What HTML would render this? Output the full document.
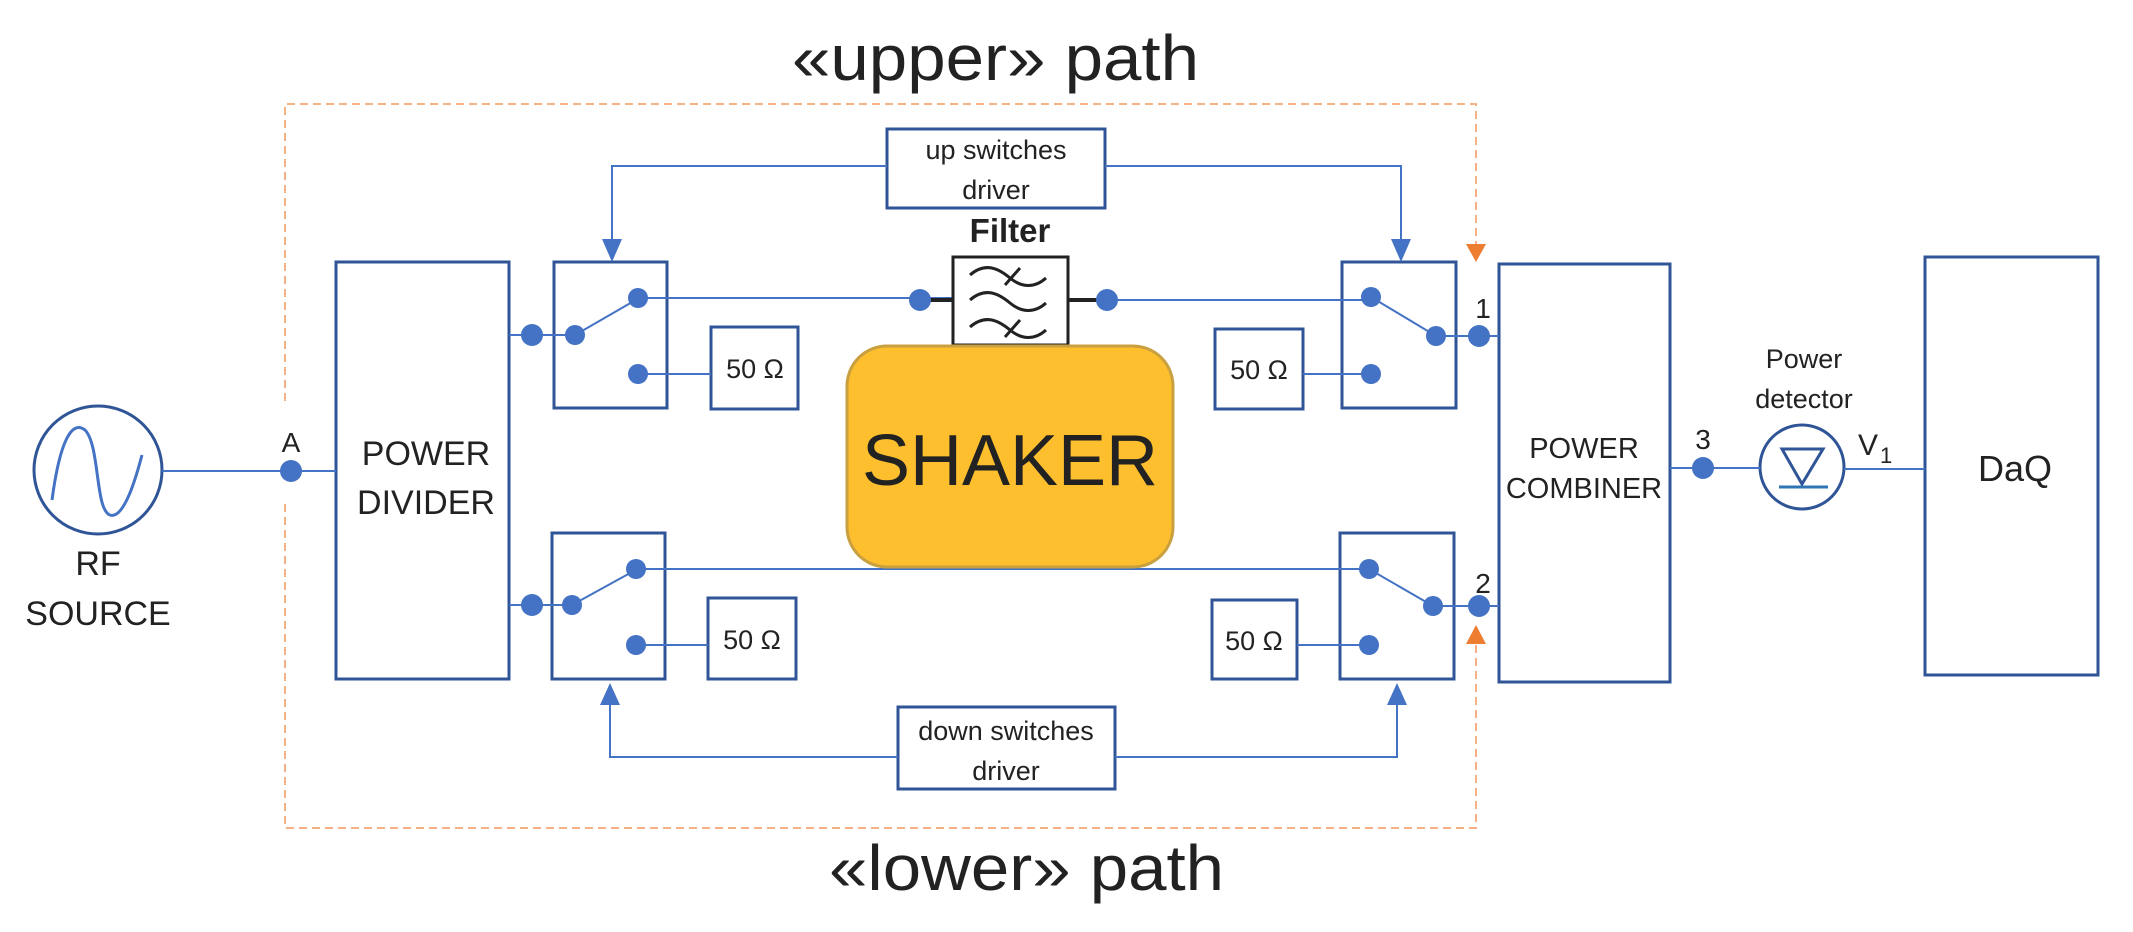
<!DOCTYPE html>
<html><head><meta charset="utf-8"><style>html,body{margin:0;padding:0;background:#fff}svg{display:block}text{font-family:"Liberation Sans",sans-serif;fill:#222}</style></head><body>
<svg width="2133" height="932" viewBox="0 0 2133 932" xmlns="http://www.w3.org/2000/svg">
<g fill="none" stroke="#F4B183" stroke-width="2" stroke-dasharray="8,5">
<path d="M285 401 V104 H1476 V245"/>
<path d="M285 504 V828 H1476 V643"/>
</g>
<polygon points="1466,244 1486,244 1476,262" fill="#ED7D31"/>
<polygon points="1466,644 1486,644 1476,625" fill="#ED7D31"/>
<text x="792" y="80" font-size="64" textLength="407" lengthAdjust="spacingAndGlyphs">«upper» path</text>
<text x="829" y="890" font-size="64" textLength="395" lengthAdjust="spacingAndGlyphs">«lower» path</text>
<g fill="#fff" stroke="#2F5597" stroke-width="3">
<rect x="336" y="262" width="173" height="417"/>
<rect x="554" y="262" width="113" height="146"/>
<rect x="552" y="533" width="113" height="146"/>
<rect x="711" y="327" width="87" height="82"/>
<rect x="708" y="598" width="88" height="81"/>
<rect x="887" y="129" width="218" height="79"/>
<rect x="898" y="707" width="217" height="82"/>
<rect x="1342" y="262" width="114" height="146"/>
<rect x="1340" y="533" width="114" height="146"/>
<rect x="1215" y="329" width="88" height="80"/>
<rect x="1212" y="600" width="85" height="79"/>
<rect x="1499" y="264" width="171" height="418"/>
<rect x="1925" y="257" width="173" height="418"/>
<circle cx="98" cy="470" r="64"/>
<circle cx="1802" cy="467" r="42"/>
</g>
<g stroke="#4472C4" stroke-width="2" fill="none">
<path d="M162 471 H336"/>
<path d="M509 335 H575 M509 605 H572"/>
<path d="M575 335 L634 301 M572 605 L632 572"/>
<path d="M638 298 H953 M1068 300 H1371"/>
<path d="M638 374 H711 M636 645 H708"/>
<path d="M636 569 H1369"/>
<path d="M1371 297 L1436 336 M1369 569 L1433 606"/>
<path d="M1436 336 H1499 M1433 606 H1499"/>
<path d="M1303 374 H1371 M1297 645 H1369"/>
<path d="M887 166 H612 V240 M1105 166 H1401 V240"/>
<path d="M898 757 H610 V704 M1115 757 H1397 V704"/>
<path d="M1670 468 H1760 M1844 469 H1925"/>
</g>
<g stroke="#222" stroke-width="4"><path d="M920 300 H953 M1068 300 H1107"/></g>
<g fill="#4472C4">
<polygon points="602,239 622,239 612,262"/><polygon points="1391,239 1411,239 1401,262"/>
<polygon points="600,705 620,705 610,683"/><polygon points="1387,705 1407,705 1397,683"/>
</g>
<path d="M52 500 C60 440,72 420,85 430 C100 445,95 510,110 515 C125 520,138 470,142 455" fill="none" stroke="#4472C4" stroke-width="3"/>
<polygon points="1782,449 1823,449 1802,484" fill="none" stroke="#2F5597" stroke-width="3"/>
<path d="M1779 487 H1828" stroke="#2E75B6" stroke-width="3"/>
<rect x="953" y="257" width="115" height="88" fill="#fff" stroke="#222" stroke-width="3"/>
<g fill="none" stroke="#222" stroke-width="3">
<path d="M970 275 C985 262,998 268,1010 278 C1022 288,1035 288,1046 278 M1005 285 L1020 268"/>
<path d="M970 300 C985 287,998 293,1010 303 C1022 313,1035 313,1046 303"/>
<path d="M970 327 C985 314,998 320,1010 330 C1022 340,1035 340,1046 330 M1005 337 L1020 320"/>
</g>
<rect x="847" y="346" width="326" height="221" rx="40" fill="#FDBF2D" stroke="#C9A040" stroke-width="3"/>
<g fill="#4472C4">
<circle cx="291" cy="471" r="11"/>
<circle cx="532" cy="335" r="11"/><circle cx="575" cy="335" r="10"/><circle cx="638" cy="298" r="10"/><circle cx="638" cy="374" r="10"/>
<circle cx="532" cy="605" r="11"/><circle cx="572" cy="605" r="10"/><circle cx="636" cy="569" r="10"/><circle cx="636" cy="645" r="10"/>
<circle cx="920" cy="300" r="11"/><circle cx="1107" cy="300" r="11"/>
<circle cx="1371" cy="297" r="10"/><circle cx="1371" cy="374" r="10"/><circle cx="1436" cy="336" r="10"/><circle cx="1479" cy="336" r="11"/>
<circle cx="1369" cy="569" r="10"/><circle cx="1369" cy="645" r="10"/><circle cx="1433" cy="606" r="10"/><circle cx="1479" cy="606" r="11"/>
<circle cx="1703" cy="468" r="11"/>
</g>
<g text-anchor="middle">
<text x="98" y="575" font-size="34">RF</text>
<text x="98" y="625" font-size="34">SOURCE</text>
<text x="291" y="452" font-size="28">A</text>
<text x="426" y="465" font-size="34">POWER</text>
<text x="426" y="514" font-size="34">DIVIDER</text>
<text x="755" y="378" font-size="27">50 Ω</text>
<text x="752" y="649" font-size="27">50 Ω</text>
<text x="1259" y="379" font-size="27">50 Ω</text>
<text x="1254" y="650" font-size="27">50 Ω</text>
<text x="996" y="159" font-size="27">up switches</text>
<text x="996" y="199" font-size="27">driver</text>
<text x="1006" y="740" font-size="27">down switches</text>
<text x="1006" y="780" font-size="27">driver</text>
<text x="1010" y="242" font-size="33" font-weight="bold">Filter</text>
<text x="1010" y="485" font-size="72">SHAKER</text>
<text x="1483" y="318" font-size="28">1</text>
<text x="1483" y="593" font-size="28">2</text>
<text x="1703" y="449" font-size="28">3</text>
<text x="1584" y="458" font-size="29">POWER</text>
<text x="1584" y="498" font-size="29">COMBINER</text>
<text x="1804" y="368" font-size="27">Power</text>
<text x="1804" y="408" font-size="27">detector</text>
<text x="2015" y="481" font-size="36">DaQ</text>
</g>
<text x="1858" y="455" font-size="30">V</text><text x="1880" y="463" font-size="22">1</text>
</svg>
</body></html>
